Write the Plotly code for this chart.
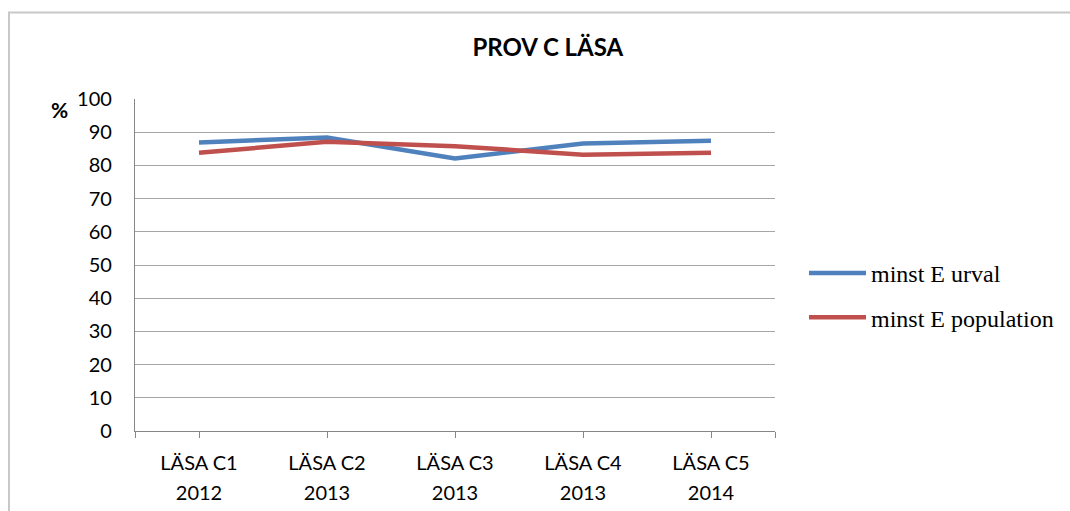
import plotly.graph_objects as go

categories = ["LÄSA C1", "LÄSA C2", "LÄSA C3", "LÄSA C4", "LÄSA C5"]
years = ["2012", "2013", "2013", "2013", "2014"]
urval = [86.9, 88.4, 82.1, 86.6, 87.4]
population = [83.8, 87.1, 85.8, 83.2, 83.8]
series_names = ["minst E urval", "minst E population"]
colors = ["#4F81BD", "#C0504D"]
y_ticks = list(range(0, 101, 10))

xs = list(range(len(categories)))
SANS = "Lato, Calibri, sans-serif"
SERIF = "Liberation Serif, Times New Roman, serif"

fig = go.Figure()
for i, (name, vals) in enumerate(zip(series_names, [urval, population])):
    fig.add_trace(go.Scatter(
        x=xs, y=vals, mode="lines", name=name,
        line=dict(color=colors[i], width=4.5),
        legendgroup=name,
    ))

# invisible trace to carry the second (year) axis
fig.add_trace(go.Scatter(x=xs, y=[None] * len(xs), xaxis="x2", showlegend=False,
                         hoverinfo="skip"))

fig.update_layout(
    width=1070, height=511,
    margin=dict(l=135, r=295, t=99, b=80, autoexpand=False),
    paper_bgcolor="white", plot_bgcolor="white",
    title=dict(text="<b>PROV C LÄSA</b>", x=0.512, xanchor="center",
               y=1 - 48 / 511, yanchor="middle",
               font=dict(family=SANS, size=24, color="black")),
    xaxis=dict(
        range=[-0.5, len(categories) - 0.5],
        tickvals=[-0.5] + xs + [len(categories) - 0.5],
        ticktext=[""] + categories + [""],
        ticks="outside", ticklen=6, tickcolor="#868686", tickwidth=1.3,
        showline=True, linecolor="#868686", linewidth=1.3,
        showgrid=False, zeroline=False, automargin=False,
        tickfont=dict(family=SANS, size=20, color="black"),
        ticklabelstandoff=8,
    ),
    xaxis2=dict(
        overlaying="x", side="bottom", anchor="y",
        range=[-0.5, len(categories) - 0.5],
        tickvals=xs, ticktext=years,
        ticks="", showline=False, showgrid=False, zeroline=False,
        automargin=False,
        tickfont=dict(family=SANS, size=20, color="black"),
        ticklabelstandoff=48,
    ),
    yaxis=dict(
        range=[0, 100], tickvals=y_ticks,
        showgrid=True, gridcolor="#A6A6A6", gridwidth=1.3,
        showline=True, linecolor="#868686", linewidth=1.3,
        zeroline=False, ticks="", automargin=False,
        tickfont=dict(family=SANS, size=20, color="black"),
        ticklabelstandoff=18,
    ),
    legend=dict(
        x=(804 - 135) / 640, xanchor="left", y=(431 - 295.5) / 332, yanchor="middle",
        font=dict(family=SERIF, size=24, color="black"),
        traceorder="grouped", tracegroupgap=10,
        itemwidth=57,
        bgcolor="rgba(0,0,0,0)",
    ),
    showlegend=True,
    annotations=[dict(text="<b>%</b>", xref="paper", yref="paper",
                      x=(59 - 135) / 640, y=(431 - 110) / 332,
                      xanchor="center", yanchor="middle", showarrow=False,
                      font=dict(family=SANS, size=21, color="black"))],
    shapes=[dict(type="rect", xref="paper", yref="paper",
                 x0=(9 - 135) / 640, x1=(1100 - 135) / 640,
                 y0=(431 - 560) / 332, y1=(431 - 12.5) / 332,
                 line=dict(color="#C8C8C8", width=2), layer="below")],
)

fig.write_html("out.html", config={"displayModeBar": False})
with open("out.html", encoding="utf-8") as f:
    html = f.read()
html = html.replace("<body>", '<body style="margin:0;padding:0;">', 1)
with open("out.html", "w", encoding="utf-8") as f:
    f.write(html)
